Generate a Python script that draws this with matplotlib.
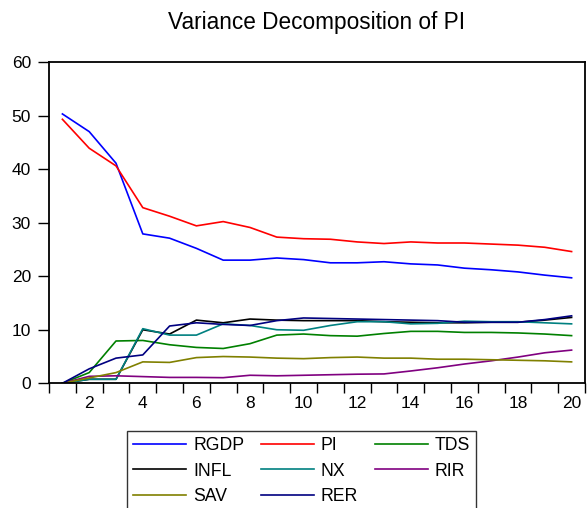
import matplotlib
matplotlib.use("Agg")
import matplotlib.pyplot as plt
import numpy as np

plt.rcParams['font.family'] = ['Liberation Sans', 'DejaVu Sans']

periods = list(range(1, 21))
RGDP = [50.3, 47.0, 41.1, 27.9, 27.1, 25.2, 23.0, 23.0, 23.4, 23.1,
        22.5, 22.5, 22.7, 22.3, 22.1, 21.5, 21.2, 20.8, 20.2, 19.7]
PI = [49.3, 43.9, 40.6, 32.8, 31.2, 29.4, 30.2, 29.1, 27.3, 27.0,
      26.9, 26.4, 26.1, 26.4, 26.2, 26.2, 26.0, 25.8, 25.4, 24.6]
TDS = [0.0, 2.0, 7.9, 8.0, 7.2, 6.7, 6.5, 7.4, 9.0, 9.2,
       8.9, 8.8, 9.3, 9.7, 9.7, 9.5, 9.5, 9.4, 9.2, 8.9]
INFL = [0.0, 0.75, 0.75, 10.0, 9.2, 11.8, 11.3, 12.0, 11.8, 11.7,
        11.7, 11.7, 11.5, 11.4, 11.3, 11.3, 11.4, 11.4, 11.8, 12.3]
NX = [0.0, 0.75, 0.75, 10.2, 9.0, 9.0, 11.1, 10.8, 10.0, 9.9,
      10.8, 11.5, 11.5, 11.1, 11.2, 11.6, 11.5, 11.5, 11.3, 11.1]
RIR = [0.0, 1.3, 1.4, 1.25, 1.1, 1.1, 1.05, 1.5, 1.4, 1.5,
       1.6, 1.7, 1.75, 2.3, 2.9, 3.6, 4.2, 4.9, 5.7, 6.2]
SAV = [0.0, 1.0, 2.0, 4.0, 3.9, 4.8, 5.0, 4.9, 4.7, 4.6,
       4.8, 4.9, 4.7, 4.7, 4.5, 4.5, 4.4, 4.3, 4.2, 4.0]
RER = [0.0, 2.7, 4.7, 5.3, 10.7, 11.3, 11.0, 10.8, 11.7, 12.2,
       12.1, 12.0, 11.9, 11.8, 11.7, 11.4, 11.4, 11.4, 11.9, 12.6]

series = [("RGDP", RGDP, "#0000ff"), ("PI", PI, "#ff0000"), ("TDS", TDS, "#008000"),
          ("INFL", INFL, "#000000"), ("NX", NX, "#008080"), ("RIR", RIR, "#800080"),
          ("SAV", SAV, "#808000"), ("RER", RER, "#000080")]

fig = plt.figure(figsize=(5.87, 5.08), dpi=100)
ax = fig.add_axes([49/587, (508-383.3)/508, (585-49)/587, (383.3-62)/508])

handles = {}
for name, vals, col in series:
    h, = ax.plot(periods, vals, color=col, lw=1.2, label=name)
    handles[name] = h

ax.set_xlim(0.5, 20.5)
ax.set_ylim(0, 60)
ax.set_yticks([0, 10, 20, 30, 40, 50, 60])
ax.tick_params(axis='y', direction='out', length=8, width=1, labelsize=12.5, pad=5)
ax.set_xticks(np.arange(0.5, 21, 1.0))
ax.set_xticklabels([])
ax.tick_params(axis='x', which='major', direction='out', length=7, width=1)
ax.set_xticks(list(range(2, 21, 2)), minor=True)
ax.set_xticklabels([str(v) for v in range(2, 21, 2)], minor=True)
ax.tick_params(axis='x', which='minor', length=0, labelsize=12.5, pad=9)
for s in ax.spines.values():
    s.set_linewidth(1.3)

ax.set_title("Variance Decomposition of PI", fontsize=16.3, pad=24)

# row-wise legend order: column-major fill needs reordering
order = ["RGDP", "INFL", "SAV", "PI", "NX", "RER", "TDS", "RIR"]
leg = fig.legend([handles[n] for n in order], order,
                 loc='upper left', bbox_to_anchor=(127/587, (508-431)/508),
                 bbox_transform=fig.transFigure, ncol=3, fontsize=12.7,
                 handlelength=3.0, handletextpad=0.4, columnspacing=0.95,
                 labelspacing=0.48, borderpad=0.35, fancybox=False,
                 frameon=True, borderaxespad=0)
leg.get_frame().set_edgecolor('black')
leg.get_frame().set_linewidth(1.0)
for line in leg.get_lines():
    line.set_linewidth(1.2)

fig.savefig("out.png", dpi=100)
